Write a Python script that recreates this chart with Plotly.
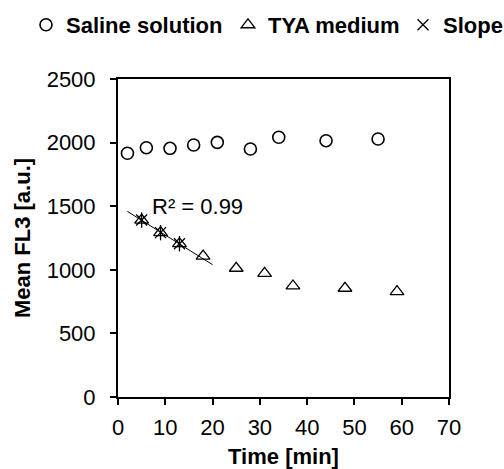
import numpy as np
import plotly.graph_objects as go

# ---- data ----
saline_time = [2, 6, 11, 16, 21, 28, 34, 44, 55]
saline_fl3 = [1916, 1960, 1955, 1981, 2002, 1950, 2042, 2015, 2028]

tya_time = [5, 9, 13, 18, 25, 31, 37, 48, 59]
tya_fl3 = [1391, 1292, 1205, 1108, 1012, 972, 873, 855, 828]

slope_time = [5, 9, 13]
slope_fl3 = [1391, 1292, 1205]

fit_range = [2, 20]          # extent of the drawn regression line (min)
r2_text = "R² = 0.99"

x_ticks = [0, 10, 20, 30, 40, 50, 60, 70]
y_ticks = [0, 500, 1000, 1500, 2000, 2500]

FONT = "Liberation Sans, Arial, sans-serif"
FS = 22

coef = np.polyfit(slope_time, slope_fl3, 1)
fit_x = np.array(fit_range, dtype=float)
fit_y = np.polyval(coef, fit_x)

fig = go.Figure()

fig.add_trace(go.Scatter(
    x=saline_time, y=saline_fl3, mode="markers", name="Saline solution",
    marker=dict(symbol="circle-open", size=12, color="black", line=dict(width=1.6, color="black")),
    legend="legend",
))
fig.add_trace(go.Scatter(
    x=tya_time, y=tya_fl3, mode="markers", name="TYA medium",
    marker=dict(symbol="triangle-up-open", size=12, color="black", line=dict(width=1.3, color="black")),
    legend="legend2",
))
fig.add_trace(go.Scatter(
    x=fit_x, y=fit_y, mode="lines", showlegend=False,
    line=dict(color="black", width=1),
))
fig.add_trace(go.Scatter(
    x=slope_time, y=slope_fl3, mode="markers", showlegend=False,
    marker=dict(symbol="line-ns-open", size=11, color="black", line=dict(width=1.3, color="black")),
))
fig.add_trace(go.Scatter(
    x=slope_time, y=slope_fl3, mode="markers", name="Slope",
    marker=dict(symbol="x-thin-open", size=11, color="black", line=dict(width=1.3, color="black")),
    legend="legend3",
))

fig.add_annotation(x=6.8, y=1494, xref="x", yref="y", text=r2_text, showarrow=False,
                   xanchor="left", yanchor="middle", font=dict(family=FONT, size=FS, color="black"))

axis_common = dict(
    showline=True, linecolor="black", linewidth=2, mirror=True,
    ticks="outside", ticklen=6, tickwidth=2, tickcolor="black",
    showgrid=False, zeroline=False,
    tickfont=dict(family=FONT, size=FS, color="black"),
)

fig.update_xaxes(range=[0, 70], tickvals=x_ticks, ticktext=[str(v) for v in x_ticks],
                 ticklabelstandoff=4,
                 title=dict(text="Time [min]", font=dict(family=FONT, size=FS, color="black", weight="bold"), standoff=10),
                 **axis_common)
fig.update_yaxes(range=[0, 2500], tickvals=y_ticks, ticktext=[str(v) for v in y_ticks],
                 ticklabelstandoff=10,
                 title=dict(text="Mean FL3 [a.u.]", font=dict(family=FONT, size=FS, color="black", weight="bold"), standoff=10),
                 **axis_common)

leg_common = dict(orientation="h", yanchor="middle", y=1.17, xanchor="left",
                  font=dict(family=FONT, size=FS, color="black", weight="bold"),
                  bgcolor="rgba(0,0,0,0)", borderwidth=0, itemwidth=30)

fig.update_layout(
    width=504, height=469,
    margin=dict(l=118, r=55, t=79, b=72, autoexpand=False),
    paper_bgcolor="white", plot_bgcolor="white",
    legend=dict(x=-0.278, **leg_common),
    legend2=dict(x=0.3323, **leg_common),
    legend3=dict(x=0.861, **leg_common),
    font=dict(family=FONT, size=FS, color="black"),
)

fig.write_html("out.html")
